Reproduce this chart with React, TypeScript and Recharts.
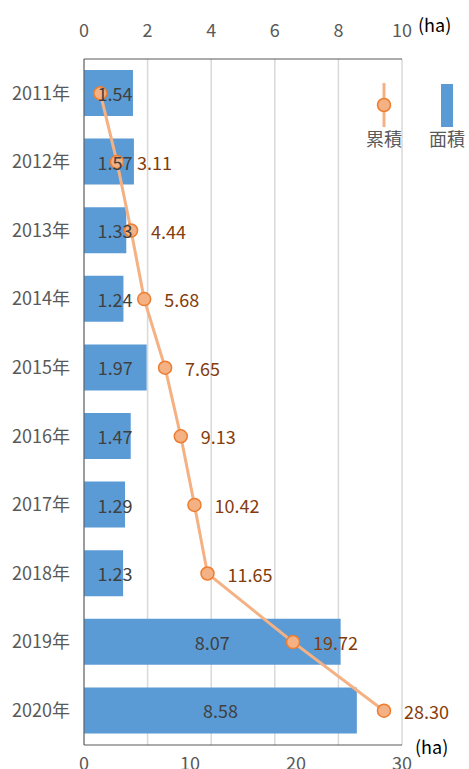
import {
  ComposedChart,
  Bar,
  Line,
  XAxis,
  YAxis,
  CartesianGrid,
  LabelList,
} from 'recharts'

const YEARS = ['2011年', '2012年', '2013年', '2014年', '2015年', '2016年', '2017年', '2018年', '2019年', '2020年']
const AREA = [1.54, 1.57, 1.33, 1.24, 1.97, 1.47, 1.29, 1.23, 8.07, 8.58]
const TOTAL = [1.54, 3.11, 4.44, 5.68, 7.65, 9.13, 10.42, 11.65, 19.72, 28.3]
const AREA_TICKS = [0, 2, 4, 6, 8, 10]
const TOTAL_TICKS = [0, 10, 20, 30]

const FONT = '"Noto Sans CJK JP", "Noto Sans", sans-serif'
const AXIS_GRAY = '#595959'
const FS = 18

const data = YEARS.map((year, i) => ({ year, area: AREA[i], total: TOTAL[i] }))

function BarValue(props: any) {
  const vb = props.viewBox ?? props
  const x = vb.x ?? props.x
  const y = vb.y ?? props.y
  const w = vb.width ?? props.width
  const h = vb.height ?? props.height
  // short bars keep the label a little off the axis, like the original
  const cx = Math.max(x + w / 2, x + 31)
  return (
    <text x={cx} y={y + h / 2} textAnchor="middle" dominantBaseline="central" fill="#404040" fontSize={FS} fontFamily={FONT}>
      {Number(props.value).toFixed(2)}
    </text>
  )
}

function TotalValue(props: any) {
  if (props.index === 0) return null
  const vb = props.viewBox ?? props
  const x = props.x ?? vb.x
  const y = props.y ?? vb.y
  return (
    <text x={x + 20} y={y} textAnchor="start" dominantBaseline="central" fill="#843C0C" fontSize={FS} fontFamily={FONT}>
      {Number(props.value).toFixed(2)}
    </text>
  )
}

function LegendBox() {
  const label = { fontSize: FS, color: AXIS_GRAY, fontFamily: FONT, lineHeight: '20px', textAlign: 'center' as const, whiteSpace: 'nowrap' as const }
  return (
    <div style={{ position: 'absolute', left: 362, top: 82, display: 'flex' }}>
      <div style={{ width: 44, marginRight: 19 }}>
        <svg width={44} height={46} style={{ display: 'block' }}>
          <line x1={22} y1={1} x2={22} y2={45} stroke="#F4B183" strokeWidth={3} />
          <circle cx={22} cy={23} r={6.5} fill="#F4B183" stroke="#ED7D31" strokeWidth={1.5} />
        </svg>
        <div style={label}>累積</div>
      </div>
      <div style={{ width: 44 }}>
        <svg width={44} height={46} style={{ display: 'block' }}>
          <rect x={16} y={2} width={12} height={43} fill="#5B9BD5" />
        </svg>
        <div style={label}>面積</div>
      </div>
    </div>
  )
}

export default function App() {
  const unit = { position: 'absolute' as const, fontSize: FS, fontFamily: FONT, color: '#000' }
  return (
    <div style={{ position: 'absolute', left: 0, top: 0, width: 469, height: 769 }}>
      <ComposedChart
        width={469}
        height={769}
        data={data}
        layout="vertical"
        margin={{ top: 19, right: 67, bottom: 0, left: 0 }}
        barSize={46}
      >
        <CartesianGrid xAxisId="area" horizontal={false} stroke="#D9D9D9" strokeWidth={1.5} />
        <XAxis
          xAxisId="area"
          orientation="top"
          type="number"
          domain={[0, 10]}
          ticks={AREA_TICKS}
          height={40}
          tickLine={false}
          tickSize={0}
          tickMargin={22}
          axisLine={{ stroke: AXIS_GRAY }}
          tick={{ fill: AXIS_GRAY, fontSize: FS, fontFamily: FONT }}
        />
        <XAxis
          xAxisId="total"
          orientation="bottom"
          type="number"
          domain={[0, 30]}
          ticks={TOTAL_TICKS}
          height={24}
          tickLine={false}
          tickSize={0}
          tickMargin={12}
          axisLine={{ stroke: AXIS_GRAY }}
          tick={{ fill: AXIS_GRAY, fontSize: FS, fontFamily: FONT }}
        />
        <YAxis
          type="category"
          dataKey="year"
          width={84}
          tickLine={false}
          tickSize={0}
          tickMargin={14}
          axisLine={{ stroke: AXIS_GRAY }}
          tick={{ fill: AXIS_GRAY, fontSize: FS, fontFamily: FONT }}
        />
        <Bar xAxisId="area" dataKey="area" name="面積" fill="#5B9BD5" isAnimationActive={false}>
          <LabelList dataKey="area" content={BarValue} />
        </Bar>
        <Line
          xAxisId="total"
          dataKey="total"
          name="累積"
          stroke="#F4B183"
          strokeWidth={3}
          dot={{ r: 6.5, fill: '#F4B183', stroke: '#ED7D31', strokeWidth: 1.5 }}
          activeDot={false}
          isAnimationActive={false}
        >
          <LabelList dataKey="total" content={TotalValue} />
        </Line>
      </ComposedChart>
      <LegendBox />
      <span style={{ ...unit, left: 418, top: 11 }}>(ha)</span>
      <span style={{ ...unit, left: 415, top: 733 }}>(ha)</span>
    </div>
  )
}
